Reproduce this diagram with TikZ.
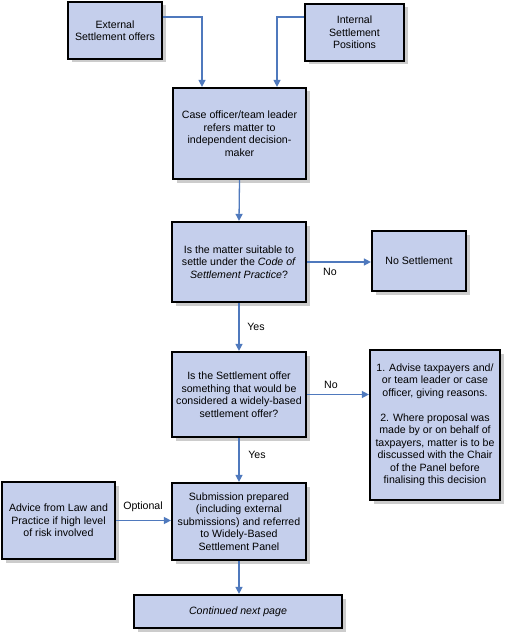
\documentclass[tikz,border=0pt]{standalone}
\usepackage{fontspec}
\setmainfont{Liberation Sans}
\usetikzlibrary{arrows.meta,shadows}
\definecolor{boxfill}{RGB}{197,207,236}
\definecolor{arrblue}{RGB}{79,121,189}
\begin{document}
\begin{tikzpicture}[x=1pt,y=-1pt,
  box/.style={draw=black, line width=2.2pt, fill=boxfill, align=center, inner sep=1pt,
    font=\fontsize{10.6}{12.5}\selectfont,
    drop shadow={shadow xshift=3.5pt, shadow yshift=-3.5pt, fill=gray!40, opacity=1}},
  arr/.style={draw=arrblue, line width=1.3pt, -{Triangle[width=7pt,length=7pt]}},
  lbl/.style={font=\fontsize{10.6}{12}\selectfont, inner sep=1pt}]
\useasboundingbox (0,0) rectangle (508,639);
\fill[white] (0,0) rectangle (508,639);

\node[box, minimum width=94pt, minimum height=57pt] (ext) at (115,30.5) {External\\Settlement offers};
\node[box, minimum width=99pt, minimum height=57pt] (int) at (354.5,32.5) {Internal\\Settlement\\Positions};
\node[box, minimum width=133pt, minimum height=91pt] (case) at (239.5,133.5) {Case officer/team leader\\refers matter to\\independent decision-\\maker};
\node[box, minimum width=134pt, minimum height=80pt] (q1) at (239,262) {Is the matter suitable to\\settle under the \textit{Code of}\\\textit{Settlement Practice}?};
\node[box, minimum width=94pt, minimum height=60pt] (noset) at (419,261) {No Settlement};
\node[box, minimum width=134pt, minimum height=85pt] (q2) at (239,394.5) {Is the Settlement offer\\something that would be\\considered a widely-based\\settlement offer?};
\node[box, minimum width=130pt, minimum height=150pt] (adv) at (435,425) {1. Advise taxpayers and/\\or team leader or case\\officer, giving reasons.\\[12.5pt]2. Where proposal was\\made by or on behalf of\\taxpayers, matter is to be\\discussed with the Chair\\of the Panel before\\finalising this decision};
\node[box, minimum width=134pt, minimum height=77pt] (sub) at (239,521.5) {Submission prepared\\(including external\\submissions) and referred\\to Widely-Based\\Settlement Panel};
\node[box, minimum width=113pt, minimum height=77pt] (law) at (58.5,520.5) {Advice from Law and\\Practice if high level\\of risk involved};
\node[box, minimum width=208pt, minimum height=33pt] (cont) at (238,611.5) {\textit{Continued next page}};

\draw[arr] ([yshift=13.5pt]ext.east) -| ([xshift=-37.5pt]case.north);
\draw[arr] ([yshift=15.5pt]int.west) -| ([xshift=37.5pt]case.north);
\draw[arr] (case.south) -- (q1.north);
\draw[arr] (q1.east) -- (q1.east -| noset.west);
\draw[arr] (q1.south) -- (q2.north);
\draw[arr] (q2.east) -- (q2.east -| adv.west);
\draw[arr] (q2.south) -- (sub.north);
\draw[arr] (law.east) -- (law.east -| sub.west);
\draw[arr] (sub.south) -- (sub.south |- cont.north);

\node[lbl] (no1) at (330,272) {No};
\node[lbl] (yes1) at (256,327) {Yes};
\node[lbl] (no2) at (331,385) {No};
\node[lbl] (yes2) at (257,455) {Yes};
\node[lbl] (opt) at (143,507) {Optional};
\end{tikzpicture}
\end{document}
